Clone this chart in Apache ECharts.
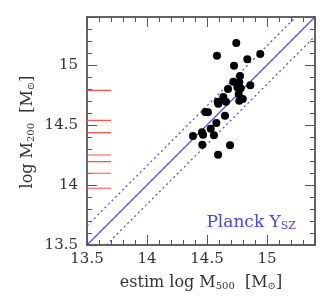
<!DOCTYPE html>
<html><head><meta charset="utf-8">
<script src="https://cdn.jsdelivr.net/npm/echarts@6/dist/echarts.min.js"></script>
<style>html,body{margin:0;padding:0;background:#fff}#c{width:326px;height:300px}</style>
</head><body><div id="c"></div>
<script>
// Data
var estimLogM500 = [14.744,14.583,14.944,14.836,14.725,14.775,14.719,14.769,14.675,14.753,14.781,14.861,14.764,14.636,14.798,14.769,14.589,14.594,14.658,14.486,14.508,14.650,14.578,14.531,14.458,14.467,14.558,14.383,14.461,14.692,14.592];
var logM200     = [15.183,15.078,15.092,15.048,14.994,14.908,14.861,14.856,14.800,14.814,14.806,14.831,14.758,14.733,14.717,14.703,14.694,14.678,14.694,14.608,14.606,14.578,14.517,14.469,14.439,14.419,14.414,14.408,14.336,14.331,14.253];
var redOnlyY = [14.789,14.539,14.436,14.25,14.194,14.098,13.973];
var redX = [13.5, 13.7];
var axisMin = 13.5, axisMax = 15.4;
var scatterOffset = 0.16;
var tickLabels = ['13.5','14','14.5','15'];

var serif = 'DejaVu Serif';
var blue = '#4646ff';
var txt = '#333';
var pts = estimLogM500.map(function(x,i){return [x, logM200[i]];});

var series = [];
series.push({type:'line', color:blue, data:[[axisMin,axisMin+scatterOffset],[axisMax-scatterOffset,axisMax]], symbol:'none', lineStyle:{color:blue,width:1.2,type:[2,3]}, silent:true, z:2});
series.push({type:'line', color:blue, data:[[axisMin+scatterOffset,axisMin],[axisMax,axisMax-scatterOffset]], symbol:'none', lineStyle:{color:blue,width:1.2,type:[2,3]}, silent:true, z:2});
series.push({type:'line', color:blue, data:[[axisMin,axisMin],[axisMax,axisMax]], symbol:'none', lineStyle:{color:blue,width:1.1,type:[1000,0]}, silent:true, z:2});
redOnlyY.forEach(function(v){
  series.push({type:'line', color:'#ff5050', data:redX.map(function(x){return [x,v];}), symbol:'none', lineStyle:{color:'#ff5050',width:1.2}, silent:true, z:3});
});
series.push({type:'scatter', data:pts, symbol:'circle', symbolSize:8, itemStyle:{color:'#000', opacity:1}, z:5});

var axisCommon = {
  type:'value', min:axisMin, max:axisMax, interval:0.5,
  axisLine:{show:true, lineStyle:{color:'#333', width:1.5}},
  axisTick:{show:true, inside:true, length:10, lineStyle:{color:'#555', width:1}},
  minorTick:{show:true, splitNumber:5, length:5, lineStyle:{color:'#555', width:1}},
  splitLine:{show:false}, minorSplitLine:{show:false}
};
function fmt(v){ var s = String(Math.round(v*10)/10); return tickLabels.indexOf(s)>=0 ? s : ''; }
var nameRich = {
  n:{fontFamily:serif, fontSize:16, fill:txt},
  s:{fontFamily:serif, fontSize:10, fill:txt, verticalAlign:'bottom'}
};

var chart = echarts.init(document.getElementById('c'));
chart.setOption({
  animation:false,
  grid:{left:87, top:17, width:228, height:228, containLabel:false},
  xAxis:[
    Object.assign({}, axisCommon, {position:'bottom',
      axisLabel:{show:true, margin:7, fontFamily:serif, fontSize:15, color:txt, showMaxLabel:false, formatter:fmt}}),
    Object.assign({}, axisCommon, {position:'top', axisLabel:{show:false}})
  ],
  yAxis:[
    Object.assign({}, axisCommon, {position:'left',
      axisLabel:{show:true, margin:9, fontFamily:serif, fontSize:15, color:txt, showMaxLabel:false, formatter:fmt}}),
    Object.assign({}, axisCommon, {position:'right', axisLabel:{show:false}})
  ],
  graphic:[
    {type:'text', x:201, y:283, style:{text:'{n|estim log M}{s|500}{n|  [M}{s|⊙}{n|]}', rich:nameRich, align:'center', verticalAlign:'middle'}},
    {type:'text', x:28, y:132, rotation:Math.PI/2, style:{text:'{n|log M}{s|200}{n|  [M}{s|⊙}{n|]}', rich:nameRich, align:'center', verticalAlign:'middle'}},
    {type:'text', x:296, y:223, style:{
      text:'{n|Planck Y}{s|SZ}', align:'right', verticalAlign:'middle',
      rich:{n:{fontFamily:serif, fontSize:17, fill:blue}, s:{fontFamily:serif, fontSize:11, fill:blue, verticalAlign:'bottom'}}
    }}
  ],
  series:series
});
</script></body></html>
